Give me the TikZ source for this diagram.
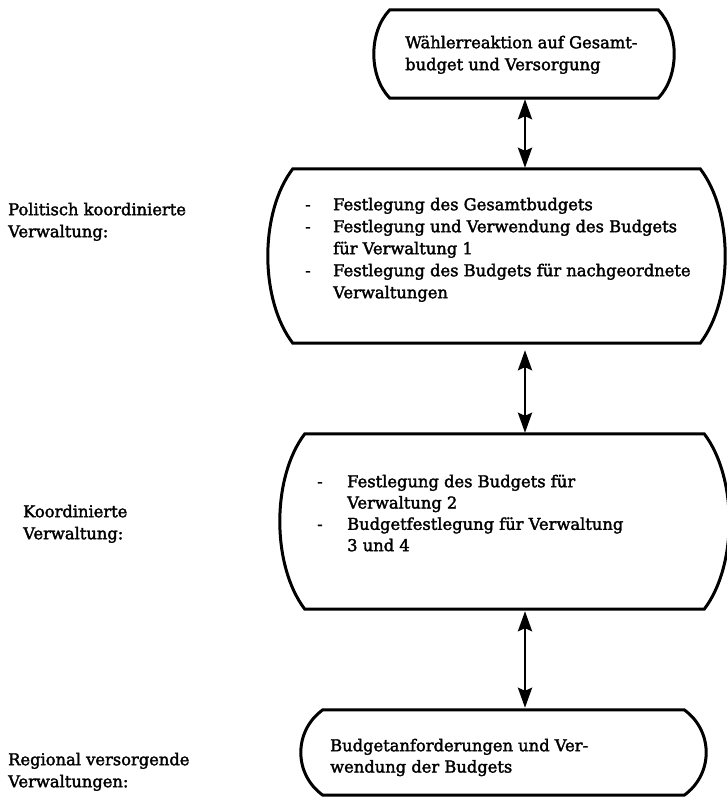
\documentclass[tikz,border=0pt]{standalone}
\usepackage{fontspec}
\setmainfont{DejaVu Serif}[FakeBold=2]
\newfontfamily\heavy{DejaVu Serif}[FakeBold=2]
\usetikzlibrary{arrows.meta,calc}
\newcommand\bulgebox[3]{% node, bulge, height
  \draw[boxline] (#1.north west) -- (#1.north east)
    .. controls ($(#1.north east)+(4/3*#2,0.25*#3)$) and ($(#1.south east)+(4/3*#2,-0.25*#3)$) .. (#1.south east)
    -- (#1.south west)
    .. controls ($(#1.south west)+(-4/3*#2,-0.25*#3)$) and ($(#1.north west)+(-4/3*#2,0.25*#3)$) .. cycle;}
\newcommand\dsh[1]{\makebox[#1][l]{-}}
\begin{document}
\begin{tikzpicture}[x=1pt,y=-1pt,
  frame/.style={draw=none, inner sep=0pt, rectangle},
  boxline/.style={line width=3pt, line join=miter},
  txt/.style={anchor=north west, inner sep=0pt, align=left, font=\heavy\fontsize{16.3}{22}\selectfont},
  txtb/.style={anchor=north west, inner sep=0pt, align=left, font=\heavy\fontsize{16.3}{21.3}\selectfont},
  link/.style={line width=2.8pt, {Stealth[length=20pt,width=14pt,inset=3pt]}-{Stealth[length=20pt,width=14pt,inset=3pt]}}]
\useasboundingbox (0,0) rectangle (727,797);
% boxes
\node[frame, minimum width=268pt, minimum height=88pt] (b1) at (524,54) {};
\node[frame, minimum width=407pt, minimum height=174pt] (b2) at (496.5,256) {};
\node[frame, minimum width=399pt, minimum height=175pt] (b3) at (504.5,521.5) {};
\node[frame, minimum width=361pt, minimum height=85pt] (b4) at (503.5,752.5) {};
\bulgebox{b1}{16}{88}
\bulgebox{b2}{25}{174}
\bulgebox{b3}{25}{175}
\bulgebox{b4}{22}{85}
% texts in boxes
\node[txt] (t1) at (405,32.6) {\strut Wählerreaktion auf Gesamt-\\budget und Versorgung};
\node[txt] (t2) at (305,194.6) {\strut\dsh{28pt}Festlegung des Gesamtbudgets\\
  \dsh{28pt}Festlegung und Verwendung des Budgets\\
  \hspace*{28pt}für Verwaltung 1\\
  \dsh{28pt}Festlegung des Budgets für nachgeordnete\\
  \hspace*{28pt}Verwaltungen};
\node[txtb] (t3) at (317,472.1) {\strut\dsh{30pt}Festlegung des Budgets für\\
  \hspace*{30pt}Verwaltung 2\\
  \dsh{30pt}Budgetfestlegung für Verwaltung\\
  \hspace*{30pt}3 und 4};
\node[txtb] (t4) at (330,736.1) {\strut Budgetanforderungen und Ver-\\wendung der Budgets};
% side labels
\node[txt] (l1) at (8,199.6) {\strut Politisch koordinierte\\Verwaltung:};
\node[txt] (l2) at (23,501.6) {\strut Koordinierte\\Verwaltung:};
\node[txt] (l3) at (8,749.6) {\strut Regional versorgende\\Verwaltungen:};
% connectors
\coordinate (ax) at (525,0);
\draw[link, shorten <=1pt, shorten >=1pt] (b1.south -| ax) -- (b2.north -| ax);
\draw[link, shorten <=7pt, shorten >=1pt] (b2.south -| ax) -- (b3.north -| ax);
\draw[link, shorten <=2pt, shorten >=2pt] (b3.south -| ax) -- (b4.north -| ax);
\end{tikzpicture}
\end{document}
